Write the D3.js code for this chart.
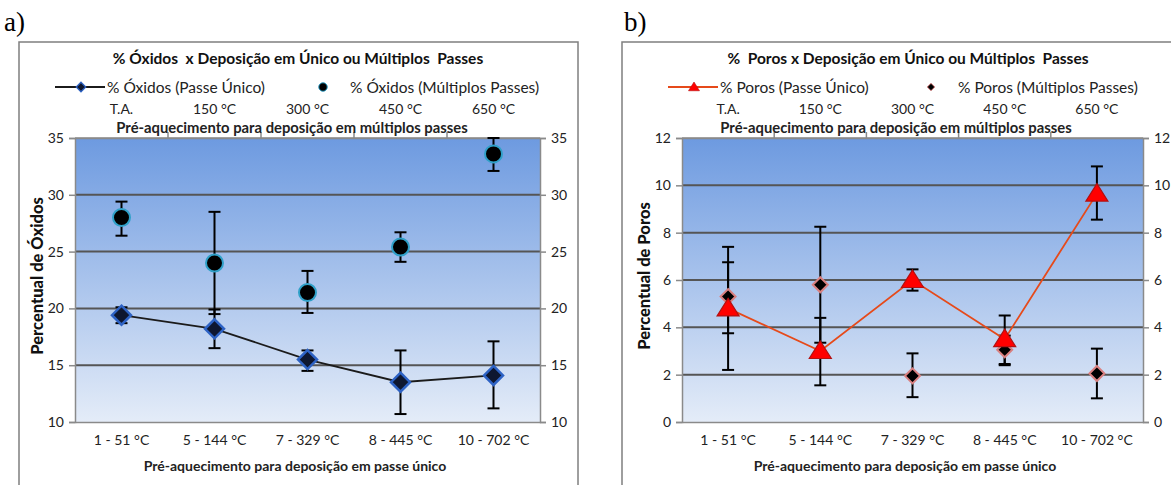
<!DOCTYPE html>
<html>
<head>
<meta charset="utf-8">
<script src="https://cdn.jsdelivr.net/npm/d3@7"></script>
<style>
  body { margin: 0; background: #fff; }
  svg { display: block; }
  text { font-family: Lato, "Open Sans", sans-serif; white-space: pre; }
</style>
</head>
<body>
<div id="chart"></div>
<script>
// categories
var singleLabels = ["1 - 51 °C", "5 - 144 °C", "7 - 329 °C", "8 - 445 °C", "10 - 702 °C"];
var multiLabels = ["T.A.", "150 °C", "300 °C", "450 °C", "650 °C"];

// a) oxides
var oxSingle = [19.4, 18.2, 15.5, 13.5, 14.1];
var oxSingleLo = [18.7, 16.5, 14.5, 10.7, 11.2];
var oxSingleHi = [20.1, 19.9, 16.3, 16.3, 17.1];
var oxMulti = [28.0, 24.0, 21.4, 25.4, 33.6];
var oxMultiLo = [26.4, 19.5, 19.6, 24.1, 32.1];
var oxMultiHi = [29.4, 28.5, 23.3, 26.7, 35.0];
var oxTicks = [10, 15, 20, 25, 30, 35];

// b) pores
var poSingle = [4.8, 3.0, 6.0, 3.5, 9.65];
var poSingleLo = [2.2, 1.55, 5.55, 2.45, 8.55];
var poSingleHi = [7.4, 4.4, 6.45, 4.5, 10.8];
var poMulti = [5.3, 5.8, 1.95, 3.05, 2.05];
var poMultiLo = [3.75, 3.35, 1.05, 2.4, 1.0];
var poMultiHi = [6.75, 8.25, 2.9, 3.65, 3.1];
var poTicks = [0, 2, 4, 6, 8, 10, 12];

var W = 1171, H = 485;
var svg = d3.select("#chart").append("svg").attr("width", W).attr("height", H);

var defs = svg.append("defs");
var grad = defs.append("linearGradient").attr("id", "bg").attr("x1", 0).attr("y1", 0).attr("x2", 0).attr("y2", 1);
grad.append("stop").attr("offset", "0%").attr("stop-color", "#6d9ae0");
grad.append("stop").attr("offset", "100%").attr("stop-color", "#e4ecf8");

function diamond(s) {
  return "M0," + (-s) + "L" + s + ",0L0," + s + "L" + (-s) + ",0Z";
}
function triangle(s) {
  return "M0," + (-s) + "L" + (s * 1.1) + "," + (s * 0.75) + "L" + (-s * 1.1) + "," + (s * 0.75) + "Z";
}

function drawPanel(c) {
  var g = svg.append("g");

  // panel letter
  g.append("text").attr("x", c.letterX).attr("y", 31)
    .style("font-family", "'Liberation Serif', 'DejaVu Serif', serif")
    .style("font-size", "27px").text(c.letter);

  // frame
  g.append("rect").attr("x", c.frameX).attr("y", 42).attr("width", c.frameW).attr("height", 460)
    .attr("fill", "#fff").attr("stroke", "#7f7f7f").attr("stroke-width", 1.5);

  var x = d3.scaleBand().domain(singleLabels).range([c.left, c.right]);
  var y = d3.scaleLinear().domain([c.ticks[0], c.ticks[c.ticks.length - 1]]).range([422, 138]);
  var cx = function(d, i) { return x(singleLabels[i]) + x.bandwidth() / 2; };

  g.append("rect").attr("x", c.left).attr("y", 138).attr("width", c.right - c.left).attr("height", 284)
    .attr("fill", "url(#bg)");

  // gridlines
  g.selectAll(".grid").data(c.ticks.slice(1, -1)).enter().append("line")
    .attr("x1", c.left).attr("x2", c.right).attr("y1", y).attr("y2", y)
    .attr("stroke", "#555").attr("stroke-width", 2);

  g.append("line").attr("x1", c.left).attr("x2", c.right).attr("y1", 138).attr("y2", 138)
    .attr("stroke", "#8a8a8a").attr("stroke-width", 1.5);

  // axes
  var axL = d3.axisLeft(y).tickValues(c.ticks).tickSize(6).tickPadding(5);
  var axR = d3.axisRight(y).tickValues(c.ticks).tickSize(6).tickPadding(5);
  var axB = d3.axisBottom(x).tickSize(0).tickPadding(13);
  var axT = d3.axisTop(x).tickSize(0).tickPadding(24).tickFormat(function(d, i) { return multiLabels[i]; });

  [[axL, "translate(" + c.left + ",0)"], [axR, "translate(" + c.right + ",0)"],
   [axB, "translate(0,422)"], [axT, "translate(0,138)"]].forEach(function(a) {
    var ag = g.append("g").attr("transform", a[1]).call(a[0]);
    ag.select(".domain").attr("stroke", "#8a8a8a").attr("stroke-width", 1.5);
    ag.selectAll(".tick line").attr("stroke", "#8a8a8a").attr("stroke-width", 1.5);
    ag.selectAll("text").style("font-family", "Lato, sans-serif").style("font-size", "14px").attr("fill", "#222");
  });

  // top band ticks (category boundaries)
  g.selectAll(".btick").data(singleLabels.slice(1)).enter().append("line")
    .attr("x1", function(d) { return x(d); }).attr("x2", function(d) { return x(d); })
    .attr("y1", 138).attr("y2", 132).attr("stroke", "#8a8a8a").attr("stroke-width", 1.5);

  // axis titles
  g.append("text").attr("x", c.topTitleX).attr("y", 133).attr("text-anchor", "middle")
    .style("font-size", "14.8px").style("font-weight", "bold").attr("fill", "#222")
    .text("Pré-aquecimento para deposição em múltiplos passes");
  g.append("text").attr("x", c.botTitleX).attr("y", 471).attr("text-anchor", "middle")
    .style("font-size", "14px").style("font-weight", "bold").attr("fill", "#222")
    .text("Pré-aquecimento para deposição em passe único");
  g.append("text").attr("transform", "translate(" + c.yTitleX + ",276) rotate(-90)").attr("text-anchor", "middle")
    .style("font-size", "16.5px").style("font-weight", "900").attr("fill", "#111")
    .text(c.yTitle);

  // chart title
  g.append("text").attr("x", c.titleX).attr("y", 64).attr("text-anchor", "middle")
    .style("font-size", "15.5px").style("font-weight", "bold").attr("fill", "#111").text(c.title);

  // legend
  g.append("line").attr("x1", c.legX).attr("x2", c.legX + 50).attr("y1", 87).attr("y2", 87)
    .attr("stroke", c.lineColor).attr("stroke-width", 2);
  c.singleMark(g.append("g").attr("transform", "translate(" + (c.legX + 26) + ",87)"), 0.5);
  g.append("text").attr("x", c.legX + 52).attr("y", 93).style("font-size", "15.5px").attr("fill", "#222").text(c.leg1);
  c.multiMark(g.append("g").attr("transform", "translate(" + c.leg2X + ",87)"), 0.5);
  g.append("text").attr("x", c.leg2X + 27).attr("y", 93).style("font-size", "15.5px").attr("fill", "#222").text(c.leg2);

  // error bars
  function errBars(lo, hi) {
    var eb = g.append("g");
    lo.forEach(function(l, i) {
      var xx = cx(null, i);
      eb.append("line").attr("x1", xx).attr("x2", xx).attr("y1", y(l)).attr("y2", y(hi[i]))
        .attr("stroke", "#000").attr("stroke-width", 2);
      [l, hi[i]].forEach(function(v) {
        eb.append("line").attr("x1", xx - 6).attr("x2", xx + 6).attr("y1", y(v)).attr("y2", y(v))
          .attr("stroke", "#000").attr("stroke-width", 2);
      });
    });
  }
  errBars(c.multiLo, c.multiHi);
  errBars(c.singleLo, c.singleHi);

  // single-pass line
  var line = d3.line().x(function(d, i) { return cx(d, i); }).y(function(d) { return y(d); });
  g.append("path").datum(c.single).attr("d", line).attr("fill", "none")
    .attr("stroke", c.lineColor).attr("stroke-width", 1.8);

  c.multi.forEach(function(v, i) {
    c.multiMark(g.append("g").attr("transform", "translate(" + cx(v, i) + "," + y(v) + ")"), 1);
  });
  c.single.forEach(function(v, i) {
    c.singleMark(g.append("g").attr("transform", "translate(" + cx(v, i) + "," + y(v) + ")"), 1);
  });
}

drawPanel({
  letter: "a)", letterX: 4, frameX: 19, frameW: 559,
  left: 75, right: 540, ticks: oxTicks, yTitleX: 43, yTitle: "Percentual de Óxidos",
  title: "% Óxidos  x Deposição em Único ou Múltiplos  Passes", titleX: 298,
  topTitleX: 292, botTitleX: 295,
  lineColor: "#1b1b1b", legX: 55, leg1: "% Óxidos (Passe Único)", leg2X: 323, leg2: "% Óxidos (Múltiplos Passes)",
  single: oxSingle, singleLo: oxSingleLo, singleHi: oxSingleHi,
  multi: oxMulti, multiLo: oxMultiLo, multiHi: oxMultiHi,
  singleMark: function(sel, k) {
    sel.append("path").attr("d", diamond(9.5 * k)).attr("fill", "#0e1730")
      .attr("stroke", "#2d62c4").attr("stroke-width", 2.5 * k);
  },
  multiMark: function(sel, k) {
    sel.append("circle").attr("r", 8.5 * k).attr("fill", "#000")
      .attr("stroke", "#2fa0c8").attr("stroke-width", 2 * k);
  }
});

drawPanel({
  letter: "b)", letterX: 624, frameX: 622, frameW: 560,
  left: 682, right: 1143, ticks: poTicks, yTitleX: 650, yTitle: "Percentual de Poros",
  title: "%  Poros x Deposição em Único ou Múltiplos  Passes", titleX: 908,
  topTitleX: 896, botTitleX: 905,
  lineColor: "#e64a1a", legX: 668, leg1: "% Poros (Passe Único)", leg2X: 931, leg2: "% Poros (Múltiplos Passes)",
  single: poSingle, singleLo: poSingleLo, singleHi: poSingleHi,
  multi: poMulti, multiLo: poMultiLo, multiHi: poMultiHi,
  singleMark: function(sel, k) {
    sel.append("path").attr("d", triangle(10 * k)).attr("fill", "#f00")
      .attr("stroke", "#b31010").attr("stroke-width", 1.2 * k);
  },
  multiMark: function(sel, k) {
    sel.append("path").attr("d", diamond(7.5 * k)).attr("fill", "#000")
      .attr("stroke", "#d98080").attr("stroke-width", 2 * k);
  }
});
</script>
</body>
</html>
